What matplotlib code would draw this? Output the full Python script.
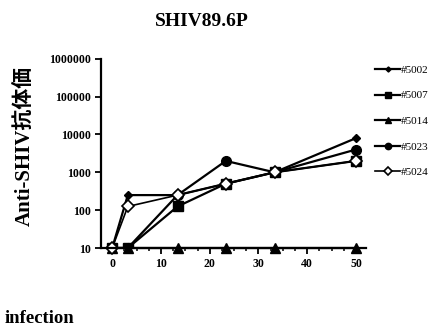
import matplotlib
matplotlib.use("Agg")
from matplotlib import pyplot as plt
from matplotlib.ticker import MultipleLocator, FixedLocator
import numpy as np

# days after infection
days = [0, 3.2, 13.4, 23.3, 33.3, 50]

# antibody titers per animal
m5002 = [10, 250, 250, 500, 1000, 8000]
m5007 = [10, 10, 125, 500, 1000, 2000]
m5014 = [10, 10, 10, 10, 10, 10]
m5023 = [10, 10, 250, 2000, 1000, 4000]
m5024 = [10, 125, 250, 500, 1000, 2000]

labels = ["#5002", "#5007", "#5014", "#5023", "#5024"]
yticks = [10, 100, 1000, 10000, 100000, 1000000]

serif = "Liberation Serif"

fig = plt.figure(figsize=(4.34, 3.32), dpi=100)
ax = fig.add_axes([0.2327, 0.253, 0.61, 0.570])

ax.plot(days, m5002, color="black", lw=1.6, marker="D", ms=4, mfc="black", mec="black", label=labels[0])
ax.plot(days, m5007, color="black", lw=1.6, marker="s", ms=6.5, mfc="black", mec="black", label=labels[1])
ax.plot(days, m5014, color="black", lw=1.6, marker="^", ms=6.5, mfc="black", mec="black", label=labels[2], clip_on=False)
ax.plot(days, m5023, color="black", lw=1.6, marker="o", ms=7, mfc="black", mec="black", label=labels[3])
ax.plot(days, m5024, color="black", lw=1.2, marker="D", ms=6, mfc="white", mec="black", mew=1.2, label=labels[4], clip_on=False)

ax.set_yscale("log")
ax.set_ylim(10, 1000000)
ax.set_xlim(-2.3, 52)
ax.yaxis.set_major_locator(FixedLocator(yticks))
ax.yaxis.set_minor_locator(FixedLocator([]))
ax.set_yticklabels([str(v) for v in yticks])
ax.xaxis.set_major_locator(MultipleLocator(10))
ax.xaxis.set_minor_locator(MultipleLocator(2.5))

for s in ["top", "right"]:
    ax.spines[s].set_visible(False)
for s in ["left", "bottom"]:
    ax.spines[s].set_linewidth(1.6)

ax.tick_params(axis="both", which="major", direction="out", length=4, width=1.3,
               labelsize=8.5, pad=3)
ax.tick_params(axis="x", which="minor", direction="out", length=2.5, width=1.1)
for lab in ax.get_xticklabels() + ax.get_yticklabels():
    lab.set_family(serif)
    lab.set_fontweight("bold")

ax.set_ylabel("Anti-SHIV抗体価", family=[serif, "Noto Sans CJK JP"], fontweight="bold",
              fontsize=15)
ax.yaxis.set_label_coords(-0.245, 0.54)

fig.text(0.466, 0.935, "SHIV89.6P", family=serif, fontweight="bold", fontsize=14,
         ha="center", va="center")
fig.text(0.01, 0.042, "infection", family=serif, fontweight="bold", fontsize=13.5,
         ha="left", va="center")

leg = ax.legend(loc="upper left", bbox_to_anchor=(1.02, 0.99), frameon=False,
                prop={"family": serif, "size": 8}, handlelength=2.2, markerscale=0.65,
                handletextpad=0.1, labelspacing=1.42, borderaxespad=0)

fig.savefig("out.png", dpi=100)
